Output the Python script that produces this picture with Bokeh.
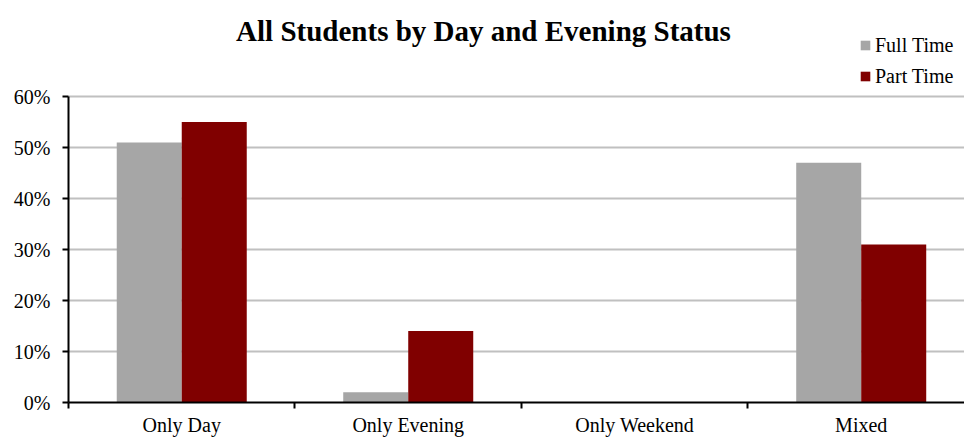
from bokeh.plotting import figure
from bokeh.models import (Range1d, FixedTicker, NumeralTickFormatter, Legend, LegendItem,
                          Label, ColumnDataSource)
from bokeh.embed import file_html
from bokeh.resources import INLINE

categories = ["Only Day", "Only Evening", "Only Weekend", "Mixed"]
full_time = [0.51, 0.02, 0.0, 0.47]
part_time = [0.55, 0.14, 0.0, 0.31]
y_ticks = [0.0, 0.1, 0.2, 0.3, 0.4, 0.5, 0.6]
title_text = "All Students by Day and Evening Status"

FONT = "Liberation Serif"
GRAY = "#a6a6a6"
MAROON = "#800000"
BW = 0.287

idx = list(range(len(categories)))
src = ColumnDataSource(dict(
    x_full=[i - BW / 2 for i in idx],
    x_part=[i + BW / 2 for i in idx],
    full=full_time, part=part_time))

# frame spans the full canvas height above the axis; the axis itself stops at 60%
p = figure(width=964, height=438, output_backend="svg", toolbar_location=None,
           x_range=Range1d(-0.5, 3.456), y_range=Range1d(0, 0.6 * 402 / 306),
           min_border_left=68, min_border_top=0, min_border_bottom=36, min_border_right=0)
p.outline_line_color = None
p.background_fill_color = "white"
p.border_fill_color = "white"

r_full = p.vbar(x="x_full", top="full", width=BW, source=src, fill_color=GRAY, line_color=None)
r_part = p.vbar(x="x_part", top="part", width=BW, source=src, fill_color=MAROON, line_color=None)

# x axis
p.xaxis.ticker = FixedTicker(ticks=idx, minor_ticks=[i - 0.5 for i in idx] + [len(idx) - 0.5])
p.xaxis.major_label_overrides = {i: c for i, c in zip(idx, categories)}
p.xaxis.major_tick_line_color = None
p.xaxis.major_tick_out = 0
p.xaxis.major_tick_in = 0
p.xaxis.minor_tick_line_color = "black"
p.xaxis.minor_tick_line_width = 2
p.xaxis.minor_tick_out = 6
p.xaxis.minor_tick_in = 0
p.xaxis.axis_line_color = "black"
p.xaxis.axis_line_width = 2
p.xaxis.major_label_text_font = FONT
p.xaxis.major_label_text_font_size = "20px"
p.xaxis.major_label_text_color = "black"
p.xaxis.major_label_standoff = 5
p.xgrid.grid_line_color = None

# y axis
p.yaxis.ticker = FixedTicker(ticks=y_ticks, minor_ticks=[])
p.yaxis.bounds = (0, 0.6)
p.yaxis.formatter = NumeralTickFormatter(format="0%")
p.yaxis.axis_line_color = "black"
p.yaxis.axis_line_width = 2
p.yaxis.major_tick_line_color = "black"
p.yaxis.major_tick_line_width = 2
p.yaxis.major_tick_out = 6
p.yaxis.major_tick_in = 0
p.yaxis.minor_tick_line_color = None
p.yaxis.major_label_text_font = FONT
p.yaxis.major_label_text_font_size = "20px"
p.yaxis.major_label_text_color = "black"
p.yaxis.major_label_standoff = 12
p.ygrid.grid_line_color = "#c0c0c0"
p.ygrid.grid_line_width = 2
p.ygrid.ticker = FixedTicker(ticks=y_ticks)

# title
p.add_layout(Label(x=415, y=372, x_units="screen", y_units="screen", text=title_text,
                   text_font=FONT, text_font_size="29px", text_font_style="bold",
                   text_align="center", text_baseline="middle", text_color="black"))

legend = Legend(items=[LegendItem(label="Full Time", renderers=[r_full]),
                       LegendItem(label="Part Time", renderers=[r_part])],
                location=(791, 314), orientation="vertical",
                label_text_font=FONT, label_text_font_size="20px", label_text_color="black",
                glyph_width=12, glyph_height=12, label_height=24, spacing=7,
                padding=0, margin=0, label_standoff=4,
                border_line_color=None, background_fill_alpha=0)
p.add_layout(legend, "center")

open("out.html", "w").write(file_html(p, INLINE))
